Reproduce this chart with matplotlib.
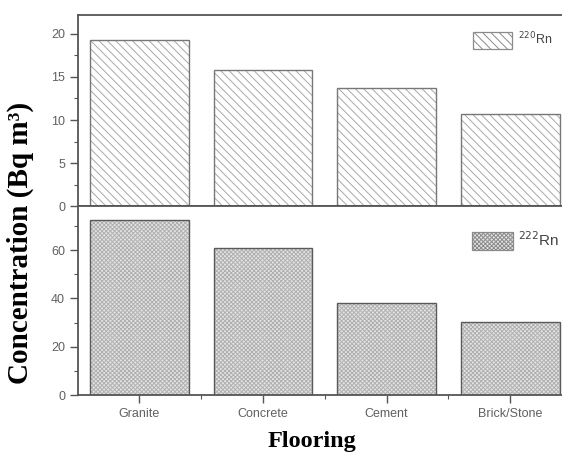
import matplotlib
matplotlib.use("Agg")
import matplotlib.pyplot as plt
from matplotlib.patches import Patch
from matplotlib.ticker import MultipleLocator

categories = ["Granite", "Concrete", "Cement", "Brick/Stone"]
rn220 = [19.3, 15.8, 13.7, 10.7]
rn222 = [72.4, 60.7, 37.9, 30.1]
label220 = r"$^{220}$Rn"
label222 = r"$^{222}$Rn"

plt.rcParams['hatch.linewidth'] = 0.7

fig = plt.figure(figsize=(5.62, 4.53), dpi=100)
L, W = 0.138, 0.880
ax_top = fig.add_axes([L, 0.545, W, 0.422])
ax_bot = fig.add_axes([L, 0.128, W, 0.417])

x = list(range(len(categories)))
spine_c = '#555555'
tick_c = '#606060'
top_hatch = '\\\\\\\\'
bot_hatch = 'xxxxxxxx'

# hatch layer (hatch colour follows edgecolor), then outline layer
ax_top.bar(x, rn220, width=0.8, facecolor='white', edgecolor='#a8a8a8',
           linewidth=0, hatch=top_hatch)
ax_top.bar(x, rn220, width=0.8, fill=False, edgecolor='#777777', linewidth=1.0)
ax_bot.bar(x, rn222, width=0.8, facecolor='#e4e4e4', edgecolor='#b0b0b0',
           linewidth=0, hatch=bot_hatch)
ax_bot.bar(x, rn222, width=0.8, fill=False, edgecolor='#5a5a5a', linewidth=1.0)

ax_top.set_ylim(0, 22.2)
ax_bot.set_ylim(0, 78.2)
for ax in (ax_top, ax_bot):
    ax.set_xlim(-0.5, 3.5)
    for s in ax.spines.values():
        s.set_color(spine_c)
        s.set_linewidth(1.3)
    ax.tick_params(axis='both', which='major', direction='out', length=6,
                   width=1, color=spine_c, labelsize=9, labelcolor=tick_c,
                   pad=3)
    ax.tick_params(axis='both', which='minor', direction='out', length=3,
                   width=0.8, color=spine_c)

ax_top.yaxis.set_major_locator(MultipleLocator(5))
ax_top.yaxis.set_minor_locator(MultipleLocator(2.5))
ax_bot.yaxis.set_major_locator(MultipleLocator(20))
ax_bot.yaxis.set_minor_locator(MultipleLocator(10))

ax_top.set_xticks(x)
ax_top.tick_params(axis='x', which='both', bottom=False, labelbottom=False)
ax_bot.set_xticks(x)
ax_bot.set_xticks([0.5, 1.5, 2.5], minor=True)
ax_bot.set_xticklabels(categories, fontfamily='Liberation Sans', fontsize=9,
                       color=tick_c)
for lab in ax_top.get_yticklabels() + ax_bot.get_yticklabels():
    lab.set_fontfamily('Liberation Sans')

fig.text(0.037, 0.464, "Concentration (Bq m³)", rotation=90,
         ha='center', va='center', fontfamily='Liberation Serif',
         fontweight='bold', fontsize=21)
fig.text(0.555, 0.026, "Flooring", ha='center', va='center',
         fontfamily='Liberation Serif', fontweight='bold', fontsize=17.5)

h1 = Patch(facecolor='white', edgecolor='#8a8a8a', hatch=top_hatch, linewidth=0.9)
h2 = Patch(facecolor='#e4e4e4', edgecolor='#8a8a8a', hatch=bot_hatch, linewidth=0.9)
fig.legend([h1], [label220], loc='center left',
           bbox_to_anchor=(0.842, 0.912), frameon=False, handlelength=3.1,
           handleheight=1.7, handletextpad=0.45, borderpad=0, borderaxespad=0,
           prop={'family': 'Liberation Sans', 'size': 9}, labelcolor='#444444')
fig.legend([h2], [label222], loc='center left',
           bbox_to_anchor=(0.840, 0.469), frameon=False, handlelength=2.7,
           handleheight=1.45, handletextpad=0.3, borderpad=0, borderaxespad=0,
           prop={'family': 'Liberation Sans', 'size': 11}, labelcolor='#444444')

fig.savefig("out.png", dpi=100)
